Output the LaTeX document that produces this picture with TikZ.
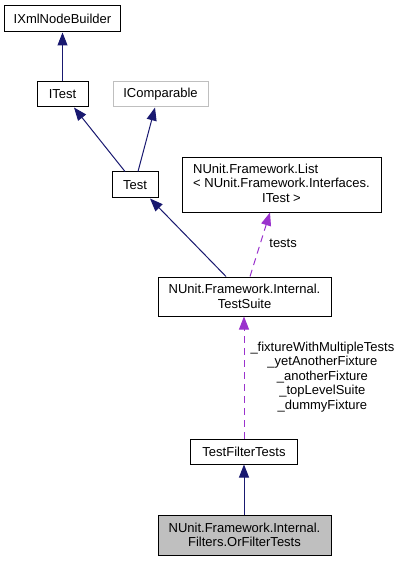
\documentclass[tikz,border=0pt]{standalone}
\usepackage{fontspec}
\setmainfont{Liberation Sans}
\usetikzlibrary{arrows.meta}
\definecolor{navy}{HTML}{191970}
\definecolor{orchid}{HTML}{9A32CD}
\definecolor{grey75}{HTML}{BFBFBF}
\newcommand{\fsz}{\fontsize{13bp}{14.5bp}\selectfont}
\tikzset{c/.style={draw,line width=1bp,align=center,inner sep=0pt,font=\fsz},
 g/.style={c,draw=grey75},
 h/.style={c,fill=grey75},
 ar/.style={navy,line width=1bp,-{Triangle[length=13bp,width=10bp]}},
 us/.style={orchid,line width=1bp,dash pattern=on 7bp off 5bp,-{Triangle[length=13bp,width=10bp]}},
 lb/.style={font=\fsz,align=center,inner sep=0pt,text=black}}

\begin{document}
\begin{tikzpicture}[x=1bp,y=-1bp]
\useasboundingbox (0,0) rectangle (401,561);
\node[c,minimum width=115bp,minimum height=26bp](xnb) at (62.5,19){IXmlNodeBuilder};
\node[c,minimum width=51bp,minimum height=25bp](itest) at (62.5,94.5){ITest};
\node[g,minimum width=95bp,minimum height=25bp](icmp) at (160.5,94.5){IComparable};
\node[c,minimum width=46bp,minimum height=26bp](test) at (135,185){Test};
\node[c,minimum width=199bp,minimum height=54bp](list) at (281.5,185){\begin{tabular}{@{}l@{}}NUnit.Framework.List\\< NUnit.Framework.Interfaces.\\\multicolumn{1}{@{}c@{}}{ITest >}\end{tabular}};
\node[c,minimum width=173bp,minimum height=39bp](suite) at (244.5,296.5){NUnit.Framework.Internal.\\TestSuite};
\node[c,minimum width=107bp,minimum height=25bp](tft) at (244,451.5){TestFilterTests};
\node[h,minimum width=173bp,minimum height=40bp](orft) at (244.5,535){NUnit.Framework.Internal.\\Filters.OrFilterTests};
\draw[ar](itest)--(xnb);
\draw[ar]([xshift=-10bp]test.north)--([xshift=11.5bp]itest.south);\draw[ar]([xshift=3bp]test.north)--([xshift=-5.5bp]icmp.south);
\draw[ar]([xshift=-18.5bp]suite.north)--([xshift=15bp]test.south);
\draw[us]([xshift=5.5bp]suite.north)--node[lb,pos=0.52,right=8.5bp]{tests}([xshift=-11.5bp]list.south);
\draw[us](tft)--node[lb,pos=0.504,right=6bp]{\_fixtureWithMultipleTests\\\_yetAnotherFixture\\\_anotherFixture\\\_topLevelSuite\\\_dummyFixture}([xshift=-0.5bp]suite.south);
\draw[ar](orft.north-|tft)--(tft);
\end{tikzpicture}
\end{document}
